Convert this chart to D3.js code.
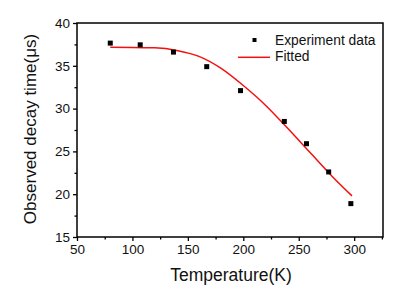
<!DOCTYPE html>
<html>
<head>
<meta charset="utf-8">
<script src="https://cdn.jsdelivr.net/npm/d3@7"></script>
<style>
  body { margin: 0; background: #fff; }
  text { font-family: "Liberation Sans", Arial, sans-serif; fill: #111; }
</style>
</head>
<body>
<svg id="chart" width="418" height="295"></svg>
<script>
// measured points
const temps = [80, 107, 137, 167, 197.5, 237, 257, 277, 297];
const decay = [37.65, 37.45, 36.6, 34.9, 32.1, 28.5, 25.9, 22.6, 18.9];

// fitted curve
const fitTemps = [80, 100, 120, 140, 160, 180, 200, 220, 240, 260, 280, 298];
const fitDecay = [37.16, 37.15, 37.1, 36.8, 36.1, 34.7, 32.7, 30.4, 27.7, 24.9, 22.1, 19.8];

const xTicks = [50, 100, 150, 200, 250, 300];
const yTicks = [15, 20, 25, 30, 35, 40];

let margin = { top: 23, right: 35, bottom: 58, left: 77 };
let width = 418, height = 295;

let svg = d3.select("#chart");
let g = svg.append("g")
    .attr("transform", "translate(" + margin.left + "," + margin.top + ")");

let w = width - margin.left - margin.right;
let h = height - margin.top - margin.bottom;

let x = d3.scaleLinear().domain([50, 326]).range([0, w]);
let y = d3.scaleLinear().domain([15, 40]).range([h, 0]);

// minor ticks
g.append("g")
    .attr("transform", "translate(0," + h + ")")
    .call(d3.axisBottom(x).tickValues(d3.range(75, 326, 50)).tickSize(2.5).tickFormat(""))
    .call(s => s.select(".domain").remove())
    .selectAll("line").attr("stroke-width", 1.3);
g.append("g")
    .call(d3.axisLeft(y).tickValues(d3.range(17.5, 40, 5)).tickSize(2.5).tickFormat(""))
    .call(s => s.select(".domain").remove())
    .selectAll("line").attr("stroke-width", 1.3);

let gx = g.append("g")
    .attr("transform", "translate(0," + h + ")")
    .call(d3.axisBottom(x).tickValues(xTicks).tickSize(4).tickSizeOuter(0));
let gy = g.append("g")
    .call(d3.axisLeft(y).tickValues(yTicks).tickSize(4).tickSizeOuter(0));

[gx, gy].forEach(a => {
    a.select(".domain").remove();
    a.selectAll("line").attr("stroke-width", 1.3);
    a.selectAll("text").style("font-size", "13.5px").style("fill", "#111");
});
gx.selectAll("text").attr("y", 4.5).attr("dy", "0.95em");
gy.selectAll("text").attr("x", -7);

// frame
g.append("rect")
    .attr("width", w).attr("height", h)
    .attr("fill", "none").attr("stroke", "#000").attr("stroke-width", 1.5);

// fitted line
let line = d3.line()
    .x((d, i) => x(fitTemps[i]))
    .y(d => y(d))
    .curve(d3.curveMonotoneX);
g.append("path")
    .datum(fitDecay)
    .attr("d", line)
    .attr("fill", "none")
    .attr("stroke", "#f21010")
    .attr("stroke-width", 1.5);

// points
g.selectAll(".pt")
    .data(decay)
    .enter()
    .append("rect")
    .attr("class", "pt")
    .attr("x", (d, i) => x(temps[i]) - 2.5)
    .attr("y", d => y(d) - 2.5)
    .attr("width", 5).attr("height", 5)
    .attr("fill", "#000");

// legend
let lg = svg.append("g");
lg.append("rect").attr("x", 252.5).attr("y", 38).attr("width", 4).attr("height", 4).attr("fill", "#000");
lg.append("text").attr("x", 275).attr("y", 45)
    .style("font-size", "13.8px").text("Experiment data");
lg.append("line").attr("x1", 238).attr("x2", 270).attr("y1", 57.3).attr("y2", 57.3)
    .attr("stroke", "#f21010").attr("stroke-width", 1.5);
lg.append("text").attr("x", 275).attr("y", 61)
    .style("font-size", "13.8px").text("Fitted");

// axis titles
svg.append("text")
    .attr("x", 231).attr("y", 281)
    .attr("text-anchor", "middle")
    .style("font-size", "17.5px")
    .text("Temperature(K)");
svg.append("text")
    .attr("transform", "translate(36,129) rotate(-90)")
    .attr("text-anchor", "middle")
    .style("font-size", "17px")
    .text("Observed decay time(μs)");
</script>
</body>
</html>
